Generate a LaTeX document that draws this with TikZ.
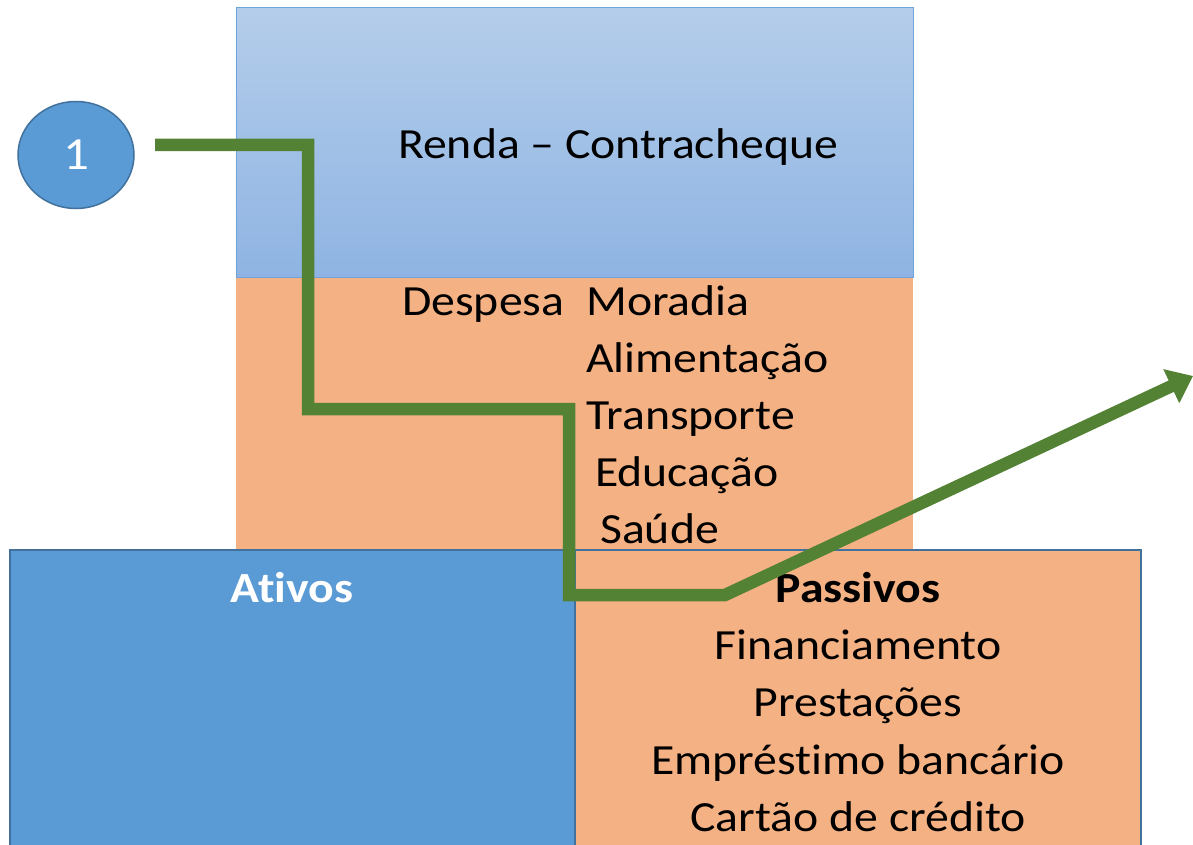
\documentclass[tikz,border=0pt]{standalone}
\usepackage{fontspec}
\setmainfont{Carlito}[FakeStretch=1.11,Ligatures={NoCommon}]
\usetikzlibrary{arrows.meta,shapes.geometric}
\definecolor{topA}{HTML}{B4CDEA}
\definecolor{topB}{HTML}{8FB4E3}
\definecolor{topline}{HTML}{6FA3DC}
\definecolor{orangefill}{HTML}{F4B183}
\definecolor{bluefill}{HTML}{5B9BD5}
\definecolor{blueline}{HTML}{41719C}
\definecolor{greenpath}{HTML}{548235}
\tikzset{
  txt/.style={inner sep=0pt, font=\fontsize{43}{52}\selectfont},
  lefttxt/.style={txt, anchor=base west},
  midtxt/.style={txt, anchor=base},
  flow/.style={draw=greenpath, line width=12.5pt, line join=miter},
}
\begin{document}
\begin{tikzpicture}[x=1pt,y=-1pt]
\useasboundingbox (0,0) rectangle (1193,845);
\begin{scope}
\clip (0,0) rectangle (1193,845);
% top box
\shade[top color=topA, bottom color=topB] (236,8) rectangle (913,277);
\draw[topline, line width=1pt] (236,8) rectangle (913,277);
% despesa box
\fill[orangefill] (236,277) rectangle (913,550);
\draw[topline, line width=1pt] (236,277) -- (913,277);
% ativos / passivos
\draw[fill=bluefill, draw=blueline, line width=1.5pt] (10,550) rectangle (575,860);
\draw[fill=orangefill, draw=blueline, line width=1.5pt] (575,550) rectangle (1141,860);
\end{scope}
% circle
\node[ellipse, minimum width=116pt, minimum height=107pt, fill=bluefill, draw=blueline, line width=1.5pt, inner sep=0pt, text=white, font=\fontsize{46}{54}\selectfont] (one) at (76,155) {1};
% texts
\node[midtxt] (renda) at (618,159) {Renda – Contracheque};
\node[lefttxt] (despesa) at (402,315) {Despesa};
\node[lefttxt] (moradia) at (586,315) {Moradia};
\node[lefttxt] (alim) at (586,372) {Alimentação};
\node[lefttxt] (transp) at (586,429) {Transporte};
\node[lefttxt] (educ) at (595,486) {Educação};
\node[lefttxt] (saude) at (600,543) {Saúde};
\node[midtxt, text=white, font=\fontsize{43}{52}\selectfont\bfseries] (ativos) at (292,602) {Ativos};
\node[midtxt, font=\fontsize{43}{52}\selectfont\bfseries] (passivos) at (858,602) {Passivos};
\node[midtxt] (fin) at (858,659) {Financiamento};
\node[midtxt] (prest) at (858,716) {Prestações};
\node[midtxt] (empr) at (858,774) {Empréstimo bancário};
\node[midtxt] (cart) at (858,831) {Cartão de crédito};
% green path
\coordinate (pstart) at (155,145);
\coordinate (pend) at (1193,376);
\draw[flow, -{Triangle[length=24pt,width=36pt]}] (pstart) -- (308,145) -- (308,409) -- (569,409) -- (569,595) -- (725,595) -- (pend);
\end{tikzpicture}
\end{document}
